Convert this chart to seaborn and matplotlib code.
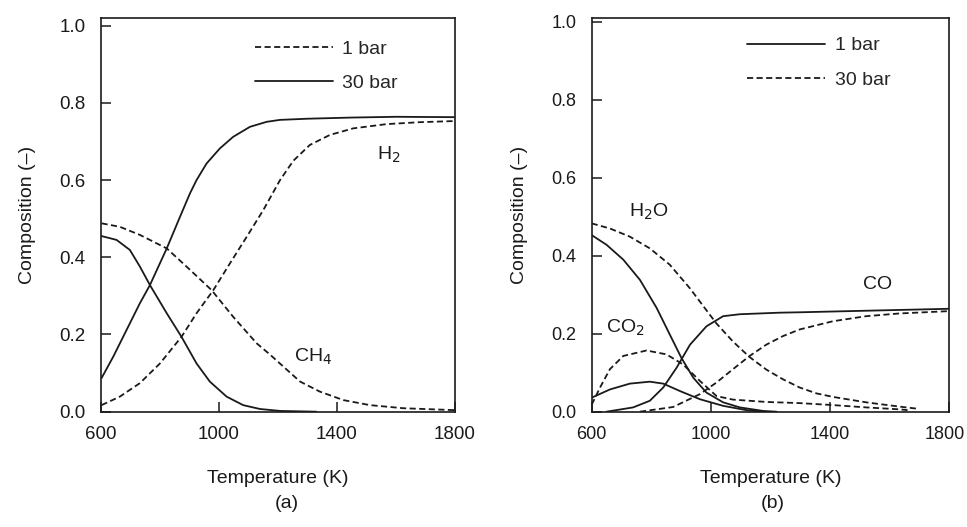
import pandas as pd
import seaborn as sns
import matplotlib.pyplot as plt
from matplotlib.lines import Line2D
from matplotlib.transforms import ScaledTranslation

# --- panel (a): CH4 / H2 ---
h2_30_T = [602, 642, 687, 732, 766, 823, 868, 902, 924, 958, 1003, 1048, 1105, 1162, 1207, 1300, 1450,
           1600, 1800]
h2_30_y = [0.087, 0.143, 0.212, 0.281, 0.328, 0.423, 0.505, 0.566, 0.600, 0.643, 0.682, 0.712, 0.738,
           0.751, 0.756, 0.759, 0.762, 0.764, 0.763]
h2_1_T = [602, 664, 732, 800, 873, 924, 981, 1037, 1094, 1150, 1207, 1252, 1308, 1376, 1455, 1568, 1681, 1800]
h2_1_y = [0.017, 0.039, 0.074, 0.125, 0.194, 0.255, 0.315, 0.384, 0.453, 0.522, 0.600, 0.650, 0.691, 0.717,
          0.734, 0.745, 0.750, 0.753]
ch4_30_T = [602, 653, 698, 732, 766, 823, 873, 924, 969, 1026, 1082, 1139, 1207, 1330]
ch4_30_y = [0.455, 0.445, 0.419, 0.376, 0.328, 0.255, 0.194, 0.125, 0.078, 0.039, 0.017, 0.007, 0.002, 0.0]
ch4_1_T = [602, 664, 732, 823, 890, 975, 1048, 1128, 1173, 1218, 1275, 1342, 1422, 1512, 1625, 1800]
ch4_1_y = [0.488, 0.479, 0.458, 0.423, 0.376, 0.315, 0.246, 0.177, 0.148, 0.117, 0.078, 0.052, 0.030,
           0.017, 0.009, 0.004]

# --- panel (b): H2O / CO / CO2 ---
h2o_1_T = [600, 650, 706, 762, 818, 862, 901, 941, 985, 1041, 1097, 1175, 1220]
h2o_1_y = [0.453, 0.428, 0.390, 0.338, 0.266, 0.198, 0.138, 0.087, 0.049, 0.024, 0.011, 0.002, 0.0]
h2o_30_T = [600, 661, 728, 795, 862, 929, 996, 1019, 1074, 1130, 1186, 1242, 1298, 1354, 1409, 1521,
            1633, 1689]
h2o_30_y = [0.483, 0.470, 0.449, 0.419, 0.377, 0.317, 0.249, 0.226, 0.180, 0.140, 0.108, 0.083, 0.062,
            0.047, 0.038, 0.024, 0.013, 0.008]
co_1_T = [650, 739, 795, 840, 885, 930, 985, 1041, 1097, 1130, 1231, 1298, 1521, 1800]
co_1_y = [0.0, 0.011, 0.028, 0.062, 0.113, 0.172, 0.219, 0.245, 0.250, 0.251, 0.254, 0.255, 0.259, 0.264]
co_30_T = [762, 873, 963, 1019, 1074, 1130, 1186, 1242, 1298, 1409, 1521, 1633, 1800]
co_30_y = [0.0, 0.012, 0.045, 0.075, 0.109, 0.143, 0.172, 0.194, 0.211, 0.232, 0.245, 0.252, 0.258]
co2_1_T = [600, 661, 728, 795, 840, 896, 963, 1041, 1119, 1175]
co2_1_y = [0.036, 0.057, 0.072, 0.077, 0.072, 0.053, 0.032, 0.015, 0.004, 0.0]
co2_30_T = [600, 628, 661, 706, 784, 851, 907, 963, 1019, 1074, 1186, 1298, 1409, 1521, 1633, 1660]
co2_30_y = [0.018, 0.062, 0.109, 0.143, 0.157, 0.147, 0.121, 0.079, 0.040, 0.031, 0.025, 0.022, 0.017,
            0.011, 0.006, 0.004]

def long_df(curves):
    rows = []
    for species, pressure, T, y in curves:
        for t, v in zip(T, y):
            rows.append({'T': t, 'comp': v, 'species': species, 'pressure': pressure})
    return pd.DataFrame(rows)

df_a = long_df([('H2', '30 bar', h2_30_T, h2_30_y), ('H2', '1 bar', h2_1_T, h2_1_y),
                ('CH4', '30 bar', ch4_30_T, ch4_30_y), ('CH4', '1 bar', ch4_1_T, ch4_1_y)])
df_b = long_df([('H2O', '1 bar', h2o_1_T, h2o_1_y), ('H2O', '30 bar', h2o_30_T, h2o_30_y),
                ('CO', '1 bar', co_1_T, co_1_y), ('CO', '30 bar', co_30_T, co_30_y),
                ('CO2', '1 bar', co2_1_T, co2_1_y), ('CO2', '30 bar', co2_30_T, co2_30_y)])

sns.set_theme(style="ticks")
plt.rcParams['font.family'] = ['Liberation Sans', 'DejaVu Sans']
plt.rcParams['axes.linewidth'] = 1.2

INK = '#1a1a1a'
LW = 1.3
DASH = (3.4, 1.9)

fig = plt.figure(figsize=(9.67, 5.27), dpi=100)
ax_a = fig.add_axes([0.1044, 0.2188, 0.3661, 0.7471])
ax_b = fig.add_axes([0.6119, 0.2188, 0.3698, 0.7471])

# (a): 1 bar dashed, 30 bar solid
sns.lineplot(data=df_a, x='T', y='comp', style='pressure', units='species', estimator=None,
             sort=False, color=INK, lw=LW, dashes={'1 bar': DASH, '30 bar': ''},
             legend=False, ax=ax_a)
# (b): 1 bar solid, 30 bar dashed
sns.lineplot(data=df_b, x='T', y='comp', style='pressure', units='species', estimator=None,
             sort=False, color=INK, lw=LW, dashes={'1 bar': '', '30 bar': DASH},
             legend=False, ax=ax_b)

for ax, ytop, tsize in ((ax_a, 1.02, 13.5), (ax_b, 1.01, 13)):
    ax.set_xlim(600, 1800)
    ax.set_ylim(0, ytop)
    ax.set_xticks([600, 1000, 1400, 1800])
    ax.set_yticks([0.0, 0.2, 0.4, 0.6, 0.8, 1.0])
    ax.set_yticklabels([f'{v:.1f}' for v in [0.0, 0.2, 0.4, 0.6, 0.8, 1.0]])
    ax.tick_params(direction='in', length=7, width=1.1, labelsize=tsize, colors=INK)
    ax.tick_params(axis='x', pad=10)
    ax.tick_params(axis='y', pad=11)
    ax.set_xlabel('Temperature (K)', fontsize=14, labelpad=20, color=INK)
    ax.set_ylabel('Composition (\u2013)', fontsize=14, labelpad=17, color=INK)
    for s in ax.spines.values():
        s.set_color(INK)

# keep the last tick label of (b) inside the figure
last = ax_b.get_xticklabels()[-1]
last.set_transform(last.get_transform() + ScaledTranslation(-5 / 100, 0, fig.dpi_scale_trans))

def press_legend(ax, first_dashed, ytop):
    ls1 = (0, DASH) if first_dashed else '-'
    ls2 = '-' if first_dashed else (0, DASH)
    handles = [Line2D([], [], color=INK, lw=LW, ls=ls1, label='1 bar'),
               Line2D([], [], color=INK, lw=LW, ls=ls2, label='30 bar')]
    ax.legend(handles=handles, loc='upper left', bbox_to_anchor=(0.435, ytop), frameon=False,
              fontsize=14, handlelength=4.0, handletextpad=0.5, labelspacing=0.85, borderpad=0,
              borderaxespad=0)

press_legend(ax_a, True, 0.944)
press_legend(ax_b, False, 0.952)

lab = dict(fontsize=14, color=INK, ha='center', va='center')
ax_a.text(1574, 0.665, 'H$_2$', **lab)
ax_a.text(1320, 0.142, 'CH$_4$', **lab)
ax_b.text(793, 0.513, 'H$_2$O', **lab)
ax_b.text(712, 0.215, 'CO$_2$', **lab)
ax_b.text(1560, 0.326, 'CO', **lab)

fig.text(287 / 967, 1 - 503 / 527, '(a)', **lab)
fig.text(773 / 967, 1 - 504 / 527, '(b)', **lab)

fig.savefig('out.png', dpi=100)
